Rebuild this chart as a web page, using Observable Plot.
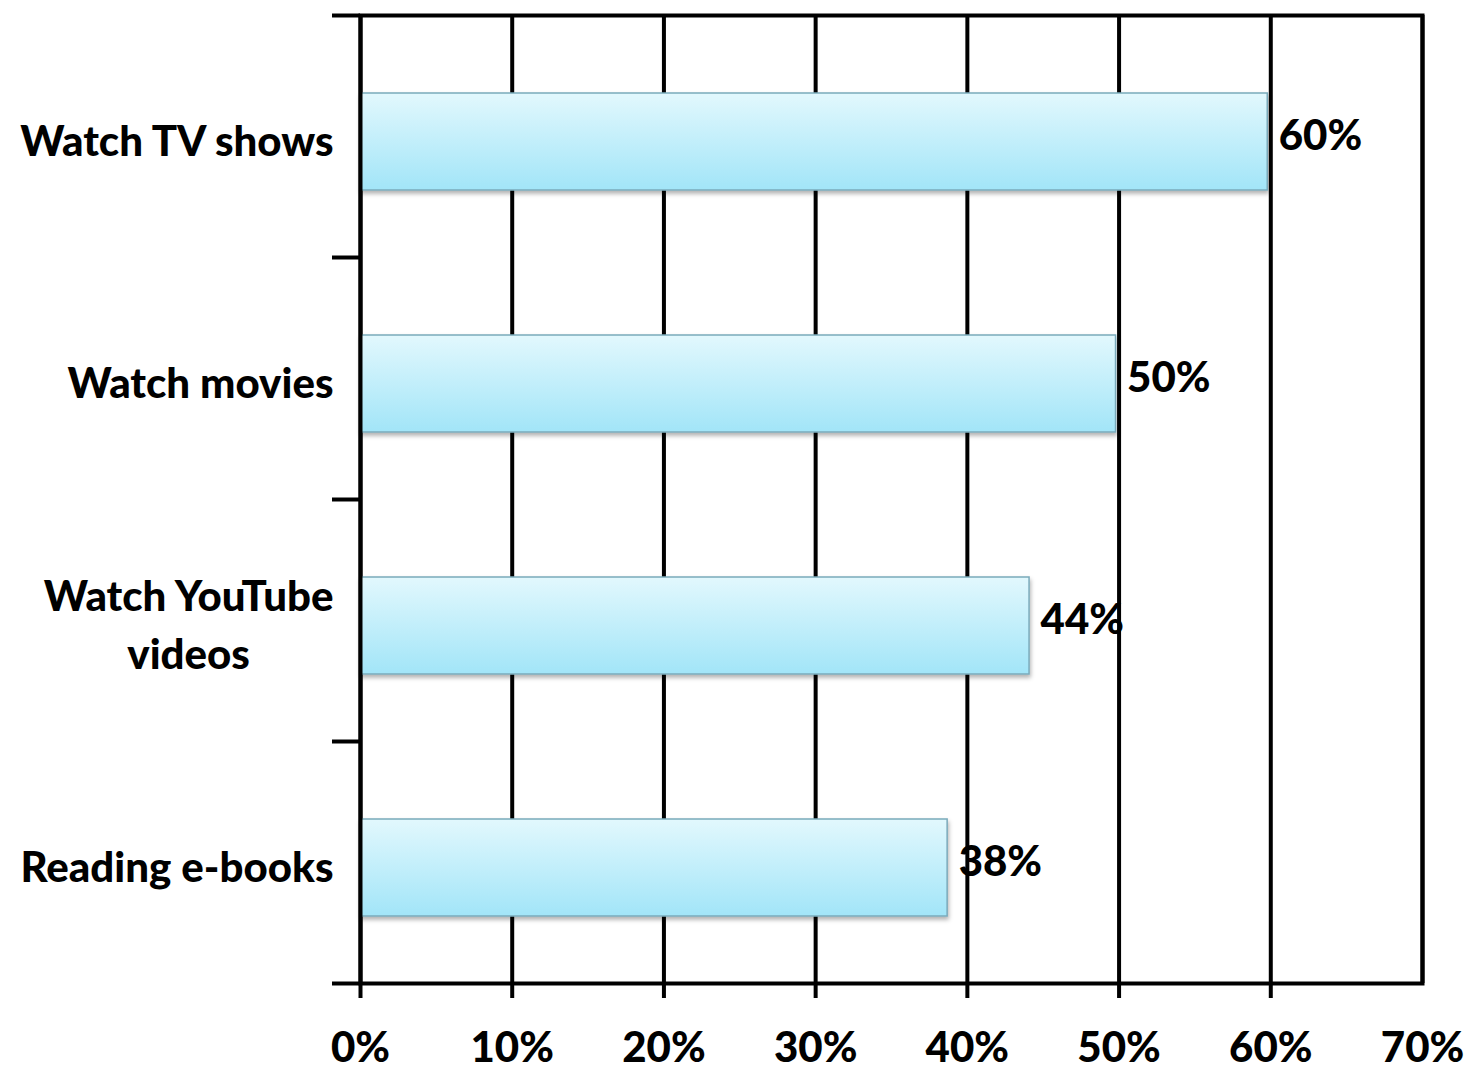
<!DOCTYPE html>
<html>
<head>
<meta charset="utf-8">
<script src="https://cdn.jsdelivr.net/npm/d3@7"></script>
<script src="https://cdn.jsdelivr.net/npm/@observablehq/plot@0.6"></script>
<style>
  html, body { margin: 0; padding: 0; background: #fff; }
  #chart { width: 1474px; height: 1073px; }
</style>
</head>
<body>
<div id="chart"></div>
<script>
const categories = ["Watch TV shows", "Watch movies", "Watch YouTube\nvideos", "Reading e-books"];
const values = [59.8, 49.8, 44.1, 38.7];
const valueLabels = ["60%", "50%", "44%", "38%"];
const xTicks = [0, 10, 20, 30, 40, 50, 60, 70];
const xTickMarks = [0, 10, 20, 30, 40, 50, 60];

const data = categories.map((c, i) => ({category: c, value: values[i], label: valueLabels[i]}));

const FONT = "Lato, 'Open Sans', sans-serif";
const FS = 42;
const FW = 900;

const plot = Plot.plot({
  width: 1474,
  height: 1073,
  marginLeft: 360,
  marginRight: 52,
  marginTop: 15,
  marginBottom: 90,
  style: {fontFamily: FONT, color: "#000", background: "#fff", overflow: "visible"},
  x: {domain: [0, 70], axis: null, label: null},
  y: {domain: categories, paddingInner: 0.6, paddingOuter: 0.3, axis: null, label: null},
  marks: [
    Plot.ruleX(xTicks, {x: d => d, stroke: "#000", strokeWidth: 4}),
    Plot.barX(data, {x: "value", y: "category", dy: 5, fill: "url(#barGrad)", stroke: "#7aaabb", strokeWidth: 1.5}),
    Plot.text(data, {x: "value", y: "category", text: "label", textAnchor: "start", dx: 11, dy: 0, fontSize: FS, fontWeight: FW, fill: "#000"}),
    Plot.frame({stroke: "#000", strokeWidth: 4}),
    Plot.axisX(xTickMarks, {tickSize: 15, strokeWidth: 4, stroke: "#000", tickFormat: () => "", label: null}),
    Plot.axisX(xTicks, {tickSize: 0, tickPadding: 49, tickFormat: d => d + "%", fontSize: FS, fontWeight: FW, fill: "#000", label: null}),
    Plot.axisY({tickSize: 0, tickPadding: 27, tickFormat: d => d, fontSize: FS, fontWeight: FW, fill: "#000", textOverflow: null, lineWidth: Infinity, lineHeight: 1.38, label: null})
  ]
});

document.getElementById("chart").appendChild(plot);

// gradient + shadow defs
const svg = d3.select(plot);
const defs = svg.insert("defs", ":first-child");
const grad = defs.append("linearGradient").attr("id", "barGrad").attr("x1", 0).attr("y1", 0).attr("x2", 0).attr("y2", 1);
grad.append("stop").attr("offset", "0%").attr("stop-color", "#e2f8fd");
grad.append("stop").attr("offset", "100%").attr("stop-color", "#a2e5f8");
const filt = defs.append("filter").attr("id", "barShadow").attr("x", "-5%").attr("y", "-10%").attr("width", "110%").attr("height", "130%");
filt.append("feDropShadow").attr("dx", 1).attr("dy", 3).attr("stdDeviation", 2).attr("flood-color", "#000").attr("flood-opacity", 0.3);
svg.selectAll("g[aria-label='bar'] rect").attr("filter", "url(#barShadow)");

// left-side tick marks at category boundaries, from the y band scale
const ys = plot.scale("y");
const xs = plot.scale("x");
const step = ys.step, bw = ys.bandwidth;
const bounds = categories.map(c => ys.apply(c) - (step - bw) / 2);
bounds.push(bounds[bounds.length - 1] + step);
const x0 = xs.apply(0);
svg.append("g").attr("aria-label", "y boundary ticks")
  .selectAll("line").data(bounds).join("line")
  .attr("x1", x0 - 28).attr("x2", x0)
  .attr("y1", d => d).attr("y2", d => d)
  .attr("stroke", "#000").attr("stroke-width", 4);

// center the lines of multi-line category labels within their block
svg.selectAll("g[aria-label='y-axis tick label'] text").each(function() {
  const tspans = d3.select(this).selectAll("tspan");
  if (tspans.size() < 2) return;
  let maxW = 0;
  tspans.each(function() { maxW = Math.max(maxW, this.getComputedTextLength()); });
  d3.select(this).attr("text-anchor", "middle");
  tspans.each(function() {
    const cx = parseFloat(this.getAttribute("x") || 0);
    this.setAttribute("x", cx - maxW / 2);
  });
});
</script>
</body>
</html>
